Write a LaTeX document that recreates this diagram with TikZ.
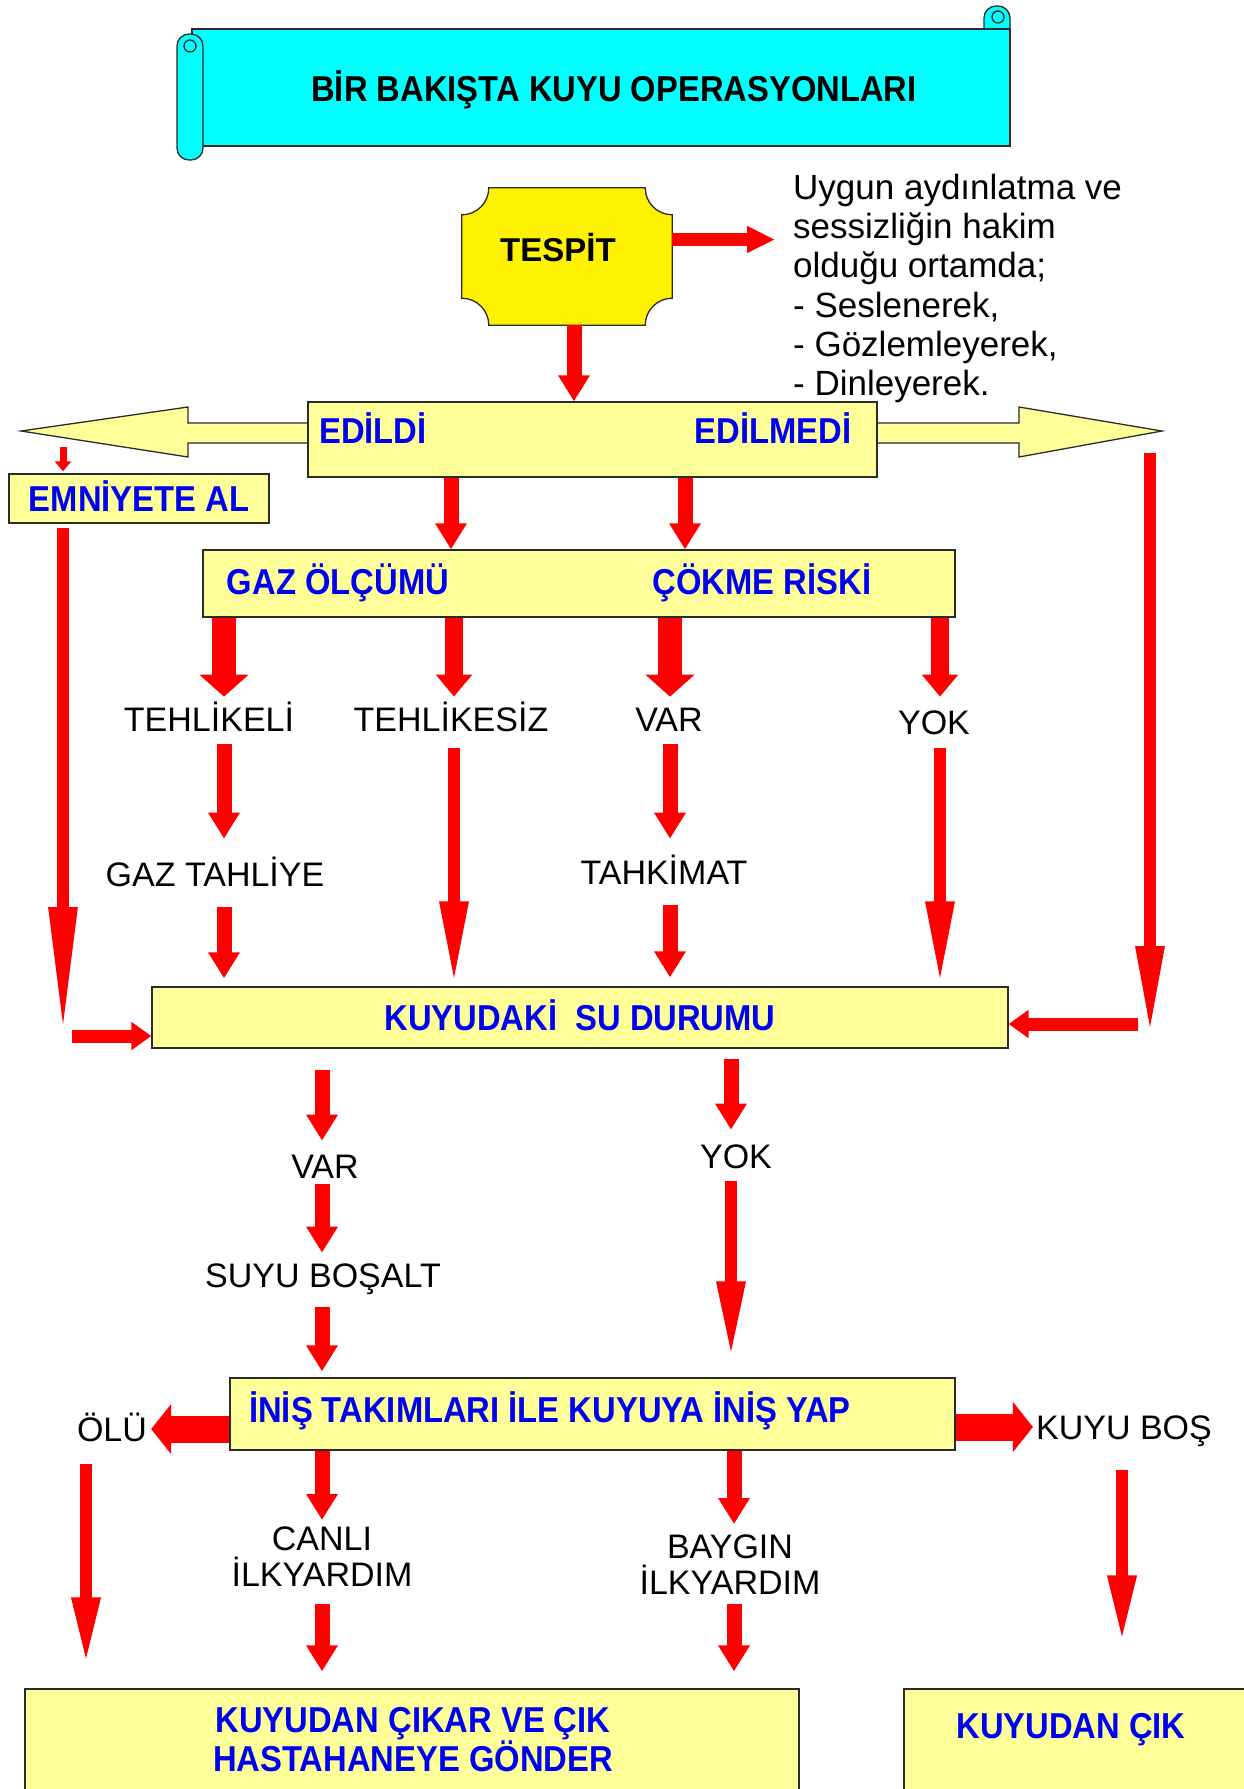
\documentclass[tikz,border=0pt]{standalone}
\usepackage{fontspec}
\setmainfont{Liberation Sans}
\newfontfamily\darfont{Liberation Sans}[FakeStretch=0.91]
\usetikzlibrary{arrows.meta}
\definecolor{acikSari}{HTML}{FFFF99}
\definecolor{camgobegi}{HTML}{00FFFF}
\definecolor{koyuMavi}{HTML}{0000F0}
\definecolor{cizgi}{HTML}{2B2B2B}

\begin{document}
\begin{tikzpicture}[x=1pt, y=-1pt,
		kutu/.style={draw=cizgi, fill=acikSari, line width=1.3pt, inner sep=0pt},
		afis/.style={fill=camgobegi, draw=cizgi, line width=1.3pt},
		plaka/.style={fill=yellow, draw=cizgi, line width=1.3pt},
		dar/.style={font=\darfont\fontsize{36}{39}\selectfont\bfseries, inner sep=0pt, text height=25.8pt, text depth=0pt},
		mavi/.style={dar, text=koyuMavi},
		siyah/.style={font=\fontsize{34}{38}\selectfont, inner sep=0pt, text height=24.3pt, text depth=0pt},
		iki/.style={font=\fontsize{34}{36}\selectfont, inner sep=0pt, align=center},
		ok/.style n args={3}{color=red, line width=#1, -{Triangle[width=#2, length=#3]}},
		ince/.style={ok={15pt}{30pt}{26pt}},
		orta/.style={ok={18pt}{35pt}{22pt}},
		kalin/.style={ok={24pt}{48pt}{22pt}},
		yan/.style={ok={27pt}{49pt}{20pt}},
		giris/.style={ok={13pt}{27pt}{20pt}},
		sagok/.style={ok={13pt}{25pt}{28pt}},
		kucuk/.style={ok={7pt}{16pt}{10pt}},
		uzun/.style={ok={12pt}{26pt}{#1}},
	]
		\fill[white] (0,0) rectangle (1243,1789);
		\useasboundingbox (0,0) rectangle (1243,1789);

		% scroll
		\filldraw[afis, rounded corners=12pt] (984,146) -- (984,6) -- (1010,6) -- (1010,146) -- cycle;
		\filldraw[afis] (192,29) rectangle (1010,146);
		\draw[afis, fill=none] (998,17) circle[radius=6pt];
		\filldraw[afis, rounded corners=12pt] (177,34) rectangle (203,160);
		\draw[afis, fill=none] (190,46) circle[radius=6pt];
		\node[dar] (baslik) at (614,89) {BİR BAKIŞTA KUYU OPERASYONLARI};

		% tespit
		\node[minimum width=210pt, minimum height=137pt, inner sep=0pt] (tespit) at (567,256.5) {};
		\filldraw[plaka] ([xshift=27pt]tespit.north west) -- ([xshift=-27pt]tespit.north east)
			arc[start angle=180, end angle=270, radius=27pt] -- ([yshift=27pt]tespit.south east)
			arc[start angle=90, end angle=180, radius=27pt] -- ([xshift=27pt]tespit.south west)
			arc[start angle=0, end angle=90, radius=27pt] -- ([yshift=-27pt]tespit.north west)
			arc[start angle=-90, end angle=0, radius=27pt] -- cycle;
		\node[siyah, font=\fontsize{33}{37}\selectfont\bfseries] (tespitYazi) at (558,249) {TESPİT};
		\node[anchor=north west, align=left, font=\fontsize{35}{39.2}\selectfont, inner sep=0pt] (yontem) at (793,174)
			{Uygun aydınlatma ve\\sessizliğin hakim\\olduğu ortamda;\\- Seslenerek,\\- Gözlemleyerek,\\- Dinleyerek.};
		\coordinate (t1) at ([yshift=17pt]tespit.east);
		\draw[sagok, shorten >=18pt] (t1) -- (t1 -| yontem.west);

		% edildi / edilmedi
		\filldraw[afis, fill=acikSari] (21,431) coordinate (solUc) -- (188,407) -- (188,423) -- (1019,423) -- (1019,407)
			-- (1162,431) coordinate (sagUc) -- (1019,457) -- (1019,443) -- (188,443) -- (188,457) -- cycle;
		\node[kutu, minimum width=569pt, minimum height=75pt] (durum) at (592.5,439.5) {};
		\node[mavi] (edildi) at (373,431) {EDİLDİ};
		\node[mavi] (edilmedi) at (773,431) {EDİLMEDİ};
		\coordinate (k0) at (574,0);
		\draw[ince] (tespit.south -| k0) -- (durum.north -| k0);

		\node[kutu, mavi, minimum width=260pt, minimum height=49pt] (emniyet) at (139,498.5) {EMNİYETE AL};
		\coordinate (k1) at (63,0);
		\draw[kucuk, shorten <=16pt, shorten >=2pt] (k1 |- solUc) -- (k1 |- emniyet.north);

		% gaz / cokme
		\node[kutu, minimum width=752pt, minimum height=67pt] (olcum) at (579,583.5) {};
		\node[mavi] (gaz) at (338,582) {GAZ ÖLÇÜMÜ};
		\node[mavi] (cokme) at (762,582) {ÇÖKME RİSKİ};
		\coordinate (k2) at (451,0);
		\coordinate (k3) at (685,0);
		\draw[ince] (durum.south -| k2) -- (olcum.north -| k2);
		\draw[ince] (durum.south -| k3) -- (olcum.north -| k3);

		\node[siyah] (tehlikeli) at (209,719) {TEHLİKELİ};
		\node[siyah] (tehlikesiz) at (451,719) {TEHLİKESİZ};
		\node[siyah] (cokVar) at (669,719) {VAR};
		\node[siyah] (cokYok) at (934,722) {YOK};
		\node[siyah] (tahliye) at (215,874) {GAZ TAHLİYE};
		\node[siyah] (tahkimat) at (664,872) {TAHKİMAT};
		\coordinate (c1) at (224,0);
		\coordinate (c2) at (454,0);
		\coordinate (c3) at (670,0);
		\coordinate (c4) at (940,0);
		\draw[kalin, shorten >=10pt] (olcum.south -| c1) -- (tehlikeli.north -| c1);
		\draw[orta, shorten >=10pt] (olcum.south -| c2) -- (tehlikesiz.north -| c2);
		\draw[kalin, shorten >=10pt] (olcum.south -| c3) -- (cokVar.north -| c3);
		\draw[orta, shorten >=13pt] (olcum.south -| c4) -- (cokYok.north -| c4);
		\draw[ince, shorten <=13pt, shorten >=23pt] (tehlikeli.south -| c1) -- (tahliye.north -| c1);
		\draw[ince, shorten <=13pt, shorten >=21pt] (cokVar.south -| c3) -- (tahkimat.north -| c3);

		% su durumu
		\node[kutu, mavi, minimum width=856pt, minimum height=61pt] (su) at (580,1017.5) {KUYUDAKİ~~SU DURUMU};
		\draw[ince, shorten <=21pt, shorten >=8pt] (tahliye.south -| c1) -- (su.north -| c1);
		\draw[ince, shorten <=21pt, shorten >=9pt] (tahkimat.south -| c3) -- (su.north -| c3);
		\draw[uzun=85pt, shorten <=17pt] (tehlikesiz.south -| c2) -- (su.north -| c2);
		\draw[uzun=85pt, shorten <=14pt] (cokYok.south -| c4) -- (su.north -| c4);
		\coordinate (solAlt) at (63,1037);
		\coordinate (solGiris) at (72,1036);
		\draw[uzun=130pt, shorten <=4pt] (emniyet.south -| k1) -- (solAlt);
		\draw[giris] (solGiris) -- (solGiris -| su.west);
		\coordinate (sagUst) at (1150,453);
		\coordinate (sagAlt) at (1150,1036);
		\coordinate (sagGiris) at (1138,1024);
		\draw[uzun=90pt] (sagUst) -- (sagAlt);
		\draw[giris] (sagGiris) -- (sagGiris -| su.east);

		\node[siyah] (suVar) at (325,1166) {VAR};
		\node[siyah] (suYok) at (736,1156) {YOK};
		\node[siyah] (bosalt) at (323,1275) {SUYU BOŞALT};
		\coordinate (w1) at (322,0);
		\coordinate (w2) at (731,0);
		\draw[ince, shorten <=21pt, shorten >=13pt] (su.south -| w1) -- (suVar.north -| w1);
		\draw[ince, shorten <=10pt, shorten >=14pt] (su.south -| w2) -- (suYok.north -| w2);
		\draw[ince, shorten <=6pt, shorten >=10pt] (suVar.south -| w1) -- (bosalt.north -| w1);

		% inis
		\node[kutu, minimum width=725pt, minimum height=72pt] (inis) at (592.5,1414) {};
		\node[mavi, anchor=west] (inisYazi) at (249,1410) {İNİŞ TAKIMLARI İLE KUYUYA İNİŞ YAP};
		\draw[ince, shorten <=20pt, shorten >=6pt] (bosalt.south -| w1) -- (inis.north -| w1);
		\draw[uzun=78pt, shorten <=13pt, shorten >=18pt] (suYok.south -| w2) -- (inis.north -| w2);

		\node[siyah] (olu) at (112,1429) {ÖLÜ};
		\node[siyah] (bos) at (1124,1427) {KUYU BOŞ};
		\draw[yan, shorten >=4pt] (inis.west |- olu) -- (olu.east);
		\draw[yan, shorten >=3pt] (inis.east |- bos) -- (bos.west);

		\node[iki, anchor=north] (canli) at (322,1527) {CANLI\\İLKYARDIM};
		\node[iki, anchor=north] (baygin) at (730,1535) {BAYGIN\\İLKYARDIM};
		\coordinate (w3) at (734,0);
		\coordinate (k4) at (86,0);
		\coordinate (k5) at (1122,0);
		\draw[ince, shorten >=7pt] (inis.south -| w1) -- (canli.north -| w1);
		\draw[ince, shorten >=11pt] (inis.south -| w3) -- (baygin.north -| w3);

		% cikis
		\node[kutu, minimum width=774pt, minimum height=111pt] (cikar) at (412,1744.5) {};
		\node[kutu, minimum width=356pt, minimum height=111pt] (cik) at (1082,1744.5) {};
		\node[anchor=north, align=center, text=koyuMavi, font=\darfont\fontsize{36}{38}\selectfont\bfseries, inner sep=0pt] (cikarYazi) at (413,1707)
			{KUYUDAN ÇIKAR VE ÇIK\\HASTAHANEYE GÖNDER};
		\node[mavi] (cikYazi) at (1071,1726) {KUYUDAN ÇIK};
		\draw[ince, shorten <=17pt, shorten >=17pt] (canli.south -| w1) -- (cikar.north -| w1);
		\draw[ince, shorten <=9pt, shorten >=17pt] (baygin.south -| w3) -- (cikar.north -| w3);
		\draw[uzun=68pt, shorten <=23pt, shorten >=23pt] (olu.south -| k4) -- (cikar.north -| k4);
		\draw[uzun=68pt, shorten <=31pt, shorten >=45pt] (bos.south -| k5) -- (cik.north -| k5);
	\end{tikzpicture}
\end{document}
